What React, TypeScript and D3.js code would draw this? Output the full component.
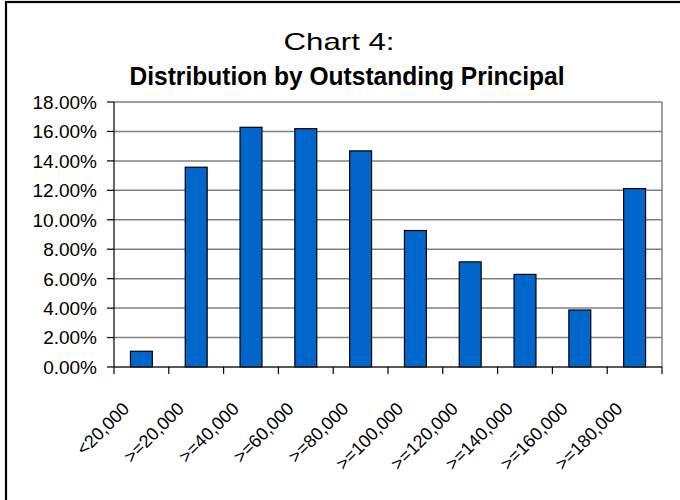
import React from "react";
import * as d3 from "d3";

// Share of outstanding principal by balance band (percent)
const categories = [
  "<20,000",
  ">=20,000",
  ">=40,000",
  ">=60,000",
  ">=80,000",
  ">=100,000",
  ">=120,000",
  ">=140,000",
  ">=160,000",
  ">=180,000",
];
const shares = [1.07, 13.57, 16.28, 16.19, 14.68, 9.27, 7.14, 6.29, 3.87, 12.12];
const yTicks = [0, 2, 4, 6, 8, 10, 12, 14, 16, 18];

const W = 680;
const H = 500;
const plot = { left: 114, right: 662, top: 102, bottom: 367 };
const font = "'Liberation Sans', Arial, Helvetica, sans-serif";

export default function App() {
  const x = d3
    .scaleBand<string>()
    .domain(categories)
    .range([plot.left, plot.right])
    .paddingInner(0.6)
    .paddingOuter(0.3);
  const band = (plot.right - plot.left) / categories.length;
  const y = d3.scaleLinear().domain([0, 18]).range([plot.bottom, plot.top]);

  return (
    <svg
      width={W}
      height={H}
      style={{ position: "absolute", left: 0, top: 0, background: "#fff" }}
    >
      <rect x={0} y={0} width={W} height={H} fill="#fff" />
      {/* outer frame, cut off at the right and bottom */}
      <rect x={6} y={2} width={W + 20} height={H + 20} fill="none" stroke="#000" strokeWidth={2.2} />

      {/* titles */}
      <text
        x={339}
        y={50}
        textAnchor="middle"
        fontFamily={font}
        fontSize={24}
        fontWeight={300}
        textLength={111}
        lengthAdjust="spacingAndGlyphs"
        fill="#000"
      >
        Chart 4:
      </text>
      <text
        x={347}
        y={85}
        textAnchor="middle"
        fontFamily="'Liberation Sans Narrow', 'Liberation Sans', Arial, sans-serif"
        fontSize={26}
        fontWeight="bold"
        textLength={435}
        lengthAdjust="spacingAndGlyphs"
        fill="#000"
      >
        Distribution by Outstanding Principal
      </text>

      {/* gridlines */}
      {yTicks.slice(1).map((t) => (
        <line
          key={`g${t}`}
          x1={plot.left}
          x2={plot.right}
          y1={y(t)}
          y2={y(t)}
          stroke="#808080"
          strokeWidth={1.5}
        />
      ))}
      {/* plot area right edge */}
      <line x1={plot.right} x2={plot.right} y1={plot.top} y2={plot.bottom} stroke="#808080" strokeWidth={1.5} />

      {/* bars */}
      {categories.map((c, i) => (
        <rect
          key={c}
          x={x(c)}
          y={y(shares[i])}
          width={x.bandwidth()}
          height={y(0) - y(shares[i])}
          fill="#0066CC"
          stroke="#000"
          strokeWidth={1.2}
        />
      ))}

      {/* y axis */}
      <line x1={plot.left} x2={plot.left} y1={plot.top} y2={plot.bottom} stroke="#000" strokeWidth={1.2} />
      {yTicks.map((t) => (
        <g key={`y${t}`}>
          <line x1={plot.left - 7} x2={plot.left} y1={y(t)} y2={y(t)} stroke="#000" strokeWidth={1.2} />
          <text
            x={97}
            y={y(t)}
            dy="0.36em"
            textAnchor="end"
            fontFamily={font}
            fontSize={19}
            fill="#000"
          >
            {`${t.toFixed(2)}%`}
          </text>
        </g>
      ))}

      {/* x axis */}
      <line x1={plot.left} x2={plot.right} y1={plot.bottom} y2={plot.bottom} stroke="#222" strokeWidth={1.4} />
      {d3.range(categories.length + 1).map((i) => (
        <line
          key={`xt${i}`}
          x1={plot.left + i * band}
          x2={plot.left + i * band}
          y1={plot.bottom}
          y2={plot.bottom + 7}
          stroke="#000"
          strokeWidth={1.2}
        />
      ))}
      {categories.map((c) => {
        const cx = (x(c) as number) + x.bandwidth() / 2 - 11;
        const cy = 410;
        return (
          <text
            key={`xl${c}`}
            transform={`translate(${cx},${cy}) rotate(-45)`}
            textAnchor="end"
            fontFamily={font}
            fontSize={18}
            fill="#000"
          >
            {c}
          </text>
        );
      })}
    </svg>
  );
}
